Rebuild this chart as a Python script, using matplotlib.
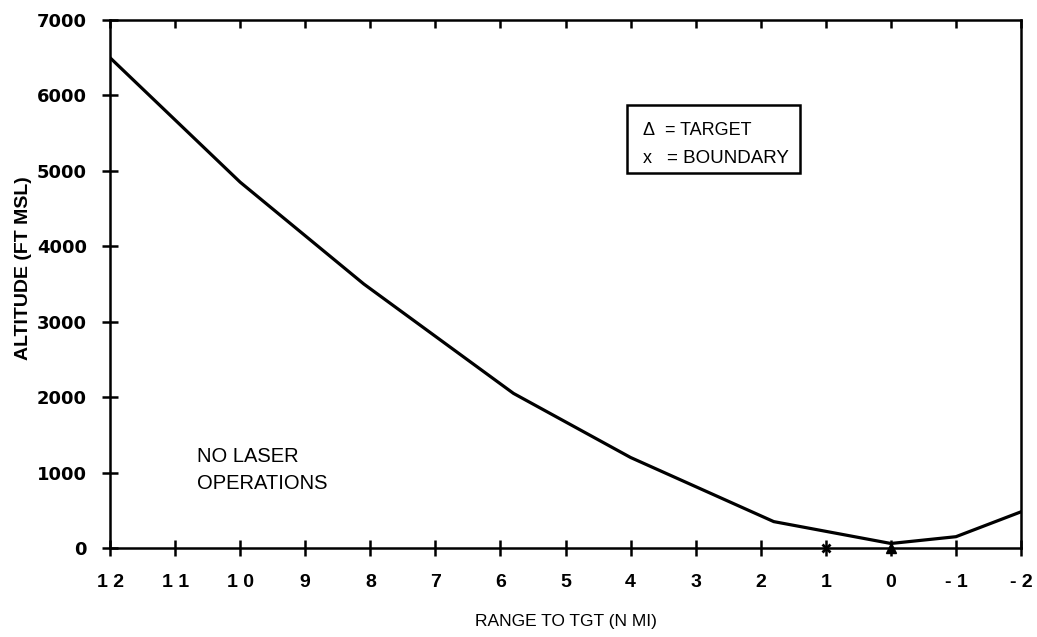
import numpy as np
import matplotlib
matplotlib.use("Agg")
from matplotlib import pyplot as plt
from matplotlib.patches import Rectangle

# data
range_nmi = [12, 10, 8.1, 5.8, 4, 1.8, 0, -1, -2]
altitude_ft = [6500, 4850, 3500, 2050, 1200, 350, 60, 150, 480]

x_ticks = [12, 11, 10, 9, 8, 7, 6, 5, 4, 3, 2, 1, 0, -1, -2]
x_ticklabels = ["1 2", "1 1", "1 0", "9", "8", "7", "6", "5", "4", "3", "2", "1", "0", "- 1", "- 2"]
y_ticks = [0, 1000, 2000, 3000, 4000, 5000, 6000, 7000]

target_x, boundary_x = [0], [1]

plt.rcParams['font.family'] = ['Liberation Sans', 'DejaVu Sans']

fig = plt.figure(figsize=(10.37, 6.37), dpi=100)
ax = fig.add_axes([0.1061, 0.1397, 0.8785, 0.8289])

ax.plot(range_nmi, altitude_ft, color='black', lw=2.3, solid_joinstyle='miter')
ax.plot(target_x, [0], marker='^', color='black', ms=7, ls='none', clip_on=False)
ax.plot(boundary_x, [0], marker='x', color='black', ms=6, mew=2, ls='none', clip_on=False)

ax.set_xlim(12, -2)
ax.set_ylim(0, 7000)

ax.set_xticks(x_ticks)
ax.set_xticklabels(x_ticklabels, fontweight='bold', fontsize=14)
ax.set_yticks(y_ticks)
ax.set_yticklabels([str(v) for v in y_ticks], fontweight='bold', fontsize=13,
                   family='DejaVu Sans')

ax.tick_params(axis='both', direction='inout', length=11, width=1.8)
ax.tick_params(axis='y', pad=11)
ax.tick_params(axis='x', top=True, pad=13, labeltop=False)
# top ticks only point inward
for t in ax.xaxis.get_major_ticks():
    t.tick2line.set_marker(matplotlib.lines.TICKDOWN)
    t.tick2line.set_markersize(6)

for s in ax.spines.values():
    s.set_linewidth(1.8)

ax.set_xlabel("RANGE TO TGT (N MI)", fontsize=12.5, labelpad=17)
ax.set_ylabel("ALTITUDE (FT MSL)", fontsize=14, fontweight='bold')
ax.yaxis.set_label_coords(-0.086, 0.53)

ax.text(0.0955, 0.163, "NO LASER", transform=ax.transAxes,
        fontsize=14.5, ha='left', va='baseline')
ax.text(0.0955, 0.112, "OPERATIONS", transform=ax.transAxes,
        fontsize=14.5, ha='left', va='baseline')

# key box
ax.add_patch(Rectangle((0.5675, 0.710), 0.19, 0.129, transform=ax.transAxes,
                       fill=False, ec='black', lw=1.8, clip_on=False))
ax.text(0.585, 0.782, "\u0394", transform=ax.transAxes, fontsize=13, va='baseline')
ax.text(0.609, 0.782, "= TARGET", transform=ax.transAxes, fontsize=13, va='baseline')
ax.text(0.585, 0.729, "x", transform=ax.transAxes, fontsize=13, va='baseline')
ax.text(0.611, 0.729, "= BOUNDARY", transform=ax.transAxes, fontsize=13.5, va='baseline')

fig.savefig("out.png", dpi=100)
